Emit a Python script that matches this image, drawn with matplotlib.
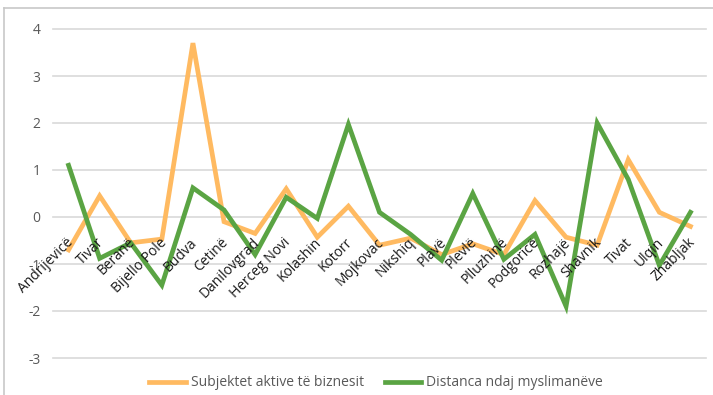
import matplotlib

matplotlib.use("Agg")
import matplotlib.pyplot as plt
import matplotlib.transforms as mtransforms
from matplotlib.lines import Line2D

plt.rcParams["font.family"] = ["Open Sans", "DejaVu Sans"]

# data
municipalities = ["Andrijevicë", "Tivar", "Beranë", "Bijello Pole", "Budva", "Cetinë",
                  "Danilovgrad", "Herceg Novi", "Kolashin", "Kotorr", "Mojkovac", "Nikshiq",
                  "Plavë", "Plevlë", "Plluzhinë", "Podgoricë", "Rozhajë", "Shavnik",
                  "Tivat", "Ulqin", "Zhabljak"]
business = [-0.70, 0.45, -0.55, -0.47, 3.70, -0.10, -0.35, 0.60, -0.43, 0.23, -0.60,
            -0.45, -0.80, -0.57, -0.80, 0.35, -0.43, -0.60, 1.22, 0.10, -0.20]
distance = [1.10, -0.88, -0.55, -1.45, 0.62, 0.15, -0.80, 0.42, -0.03, 1.97, 0.10,
            -0.37, -0.92, 0.50, -0.90, -0.37, -1.90, 2.00, 0.80, -1.03, 0.10]
series_names = ["Subjektet aktive të biznesit", "Distanca ndaj myslimanëve"]
y_ticks = [-3, -2, -1, 0, 1, 2, 3, 4]

ORANGE = "#FFBA61"
GREEN = "#5AA443"

W, H = 713, 395
fig = plt.figure(figsize=(W / 100, H / 100), dpi=100)
ax = fig.add_axes([53 / W, 1 - 358 / H, (706 - 53) / W, (358 - 29) / H])

x = list(range(len(municipalities)))
ax.plot(x, business, color=ORANGE, lw=3.4, solid_joinstyle="miter", zorder=3)
ax.plot(x, distance, color=GREEN, lw=3.4, solid_joinstyle="miter", zorder=4)

ax.set_xlim(-0.5, len(municipalities) - 0.5)
ax.set_ylim(-3, 4)
ax.set_yticks(y_ticks)
ax.set_yticklabels([str(v) for v in y_ticks])
ax.yaxis.grid(True, color="#D9D9D9", lw=1.2)
ax.set_axisbelow(True)
ax.tick_params(axis="y", length=0, pad=9, labelsize=10, labelcolor="#595959")
ax.set_xticks([])
for s in ax.spines.values():
    s.set_visible(False)
for gl in ax.get_ygridlines():
    gl.set_clip_on(False)

# category labels hang from the zero line
off = mtransforms.ScaledTranslation(-3 / 100, -18 / 100, fig.dpi_scale_trans)
for i, name in enumerate(municipalities):
    ax.text(i, 0, name, rotation=45, ha="right", va="top", rotation_mode="anchor",
            fontsize=10, color="#1A1A1A", transform=ax.transData + off, zorder=5)

# outer chart frame (only left/top visible in the crop)
fig.add_artist(Line2D([4 / W, 4 / W], [0, 1 - 8 / H], color="#C8C8C8", lw=1.2,
                      transform=fig.transFigure))
fig.add_artist(Line2D([4 / W, 1], [1 - 8 / H, 1 - 8 / H], color="#C8C8C8", lw=1.2,
                      transform=fig.transFigure))

handles = [Line2D([], [], color=ORANGE, lw=3.4), Line2D([], [], color=GREEN, lw=3.4)]
fig.legend(handles, series_names, loc="center", bbox_to_anchor=(376 / W, 12 / H),
           ncol=2, frameon=False, fontsize=10, labelcolor="#595959",
           handlelength=2.65, handletextpad=0.36, columnspacing=1.5)

fig.savefig("out.png", dpi=100)
